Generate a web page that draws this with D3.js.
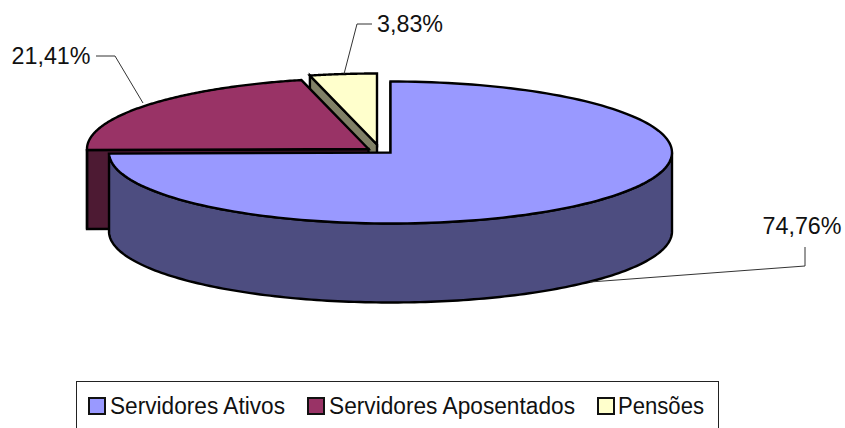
<!DOCTYPE html>
<html><head><meta charset="utf-8">
<script src="https://cdn.jsdelivr.net/npm/d3@7/dist/d3.min.js"></script>
<style>html,body{margin:0;padding:0;background:#fff}svg{display:block}text{font-family:"Liberation Sans",Arial,sans-serif;fill:#111}</style>
</head><body><svg id="c" width="845" height="428"></svg>
<script>
const categories = ["Servidores Ativos", "Servidores Aposentados", "Pensões"];
const values = [74.76, 21.41, 3.83];
const labels = ["74,76%", "21,41%", "3,83%"];
const topColors = ["#9999ff", "#993366", "#ffffcc"];
const wallColors = ["#4d4d80", "#4d1a33", "#808066"];

const svg = d3.select("#c");
const rx = 281.5, ry = 71, depth = 79;
const centers = [[390.5,152.5],[368.5,149],[377,144.5]];
const TAU = Math.PI*2;
const arcs = d3.pie().sort(null).startAngle(0).endAngle(TAU)(values);
const pt = (c,a,dy=0)=>[c[0]+rx*Math.sin(a), c[1]-ry*Math.cos(a)+dy];
const line = d3.line();
const samples = (a0,a1)=>d3.range(0,161).map(i=>a0+(a1-a0)*i/160);
function draw(d,fill){
  svg.append("path").attr("d",d).attr("fill",fill)
    .attr("stroke","#000").attr("stroke-width",2.4).attr("stroke-linejoin","miter");
}
// back-to-front: Pensões, Aposentados, Ativos
[2,1,0].forEach(i=>{
  const c = centers[i], a = arcs[i];
  const s = a.startAngle, e = a.endAngle;
  // cut face at the start angle is the one turned toward the viewer
  const P = pt(c,s);
  draw(line([c,P,[P[0],P[1]+depth],[c[0],c[1]+depth]])+"Z", wallColors[i]);
  // outer wall, only the part facing the viewer
  const w0 = Math.max(s,TAU/4), w1 = Math.min(e,TAU*3/4);
  if (w1>w0){
    const as = samples(w0,w1);
    draw(line([...as.map(t=>pt(c,t)),...as.slice().reverse().map(t=>pt(c,t,depth))])+"Z", wallColors[i]);
  }
  // top
  draw(line([c,...samples(s,e).map(t=>pt(c,t))])+"Z", topColors[i]);
});
// leader lines
const leaders = [
  [[805,247],[805,266],[590,282]],
  [[96,56],[115,56],[143,103]],
  [[372,24],[357,24],[344,74]]
];
leaders.forEach(l=>svg.append("path").attr("d",line(l)).attr("fill","none").attr("stroke","#333").attr("stroke-width",1));
const labelPos=[[762.5,234],[11.5,63.5],[377,32]];
labels.forEach((t,i)=>svg.append("text").attr("x",labelPos[i][0]).attr("y",labelPos[i][1]).attr("font-size",23.3).text(t));
// legend
svg.append("rect").attr("x",76.5).attr("y",381.5).attr("width",642).attr("height",60).attr("fill","#fff").attr("stroke","#222").attr("stroke-width",1);
const lx=[89,308,598], tx=[110,329,618], tw=[175,246,86];
categories.forEach((t,i)=>{
  svg.append("rect").attr("x",lx[i]).attr("y",398).attr("width",16).attr("height",16).attr("fill",topColors[i]).attr("stroke","#111").attr("stroke-width",2);
  svg.append("text").attr("x",tx[i]).attr("y",414).attr("font-size",23).attr("textLength",tw[i]).attr("lengthAdjust","spacingAndGlyphs").text(t);
});
</script></body></html>
